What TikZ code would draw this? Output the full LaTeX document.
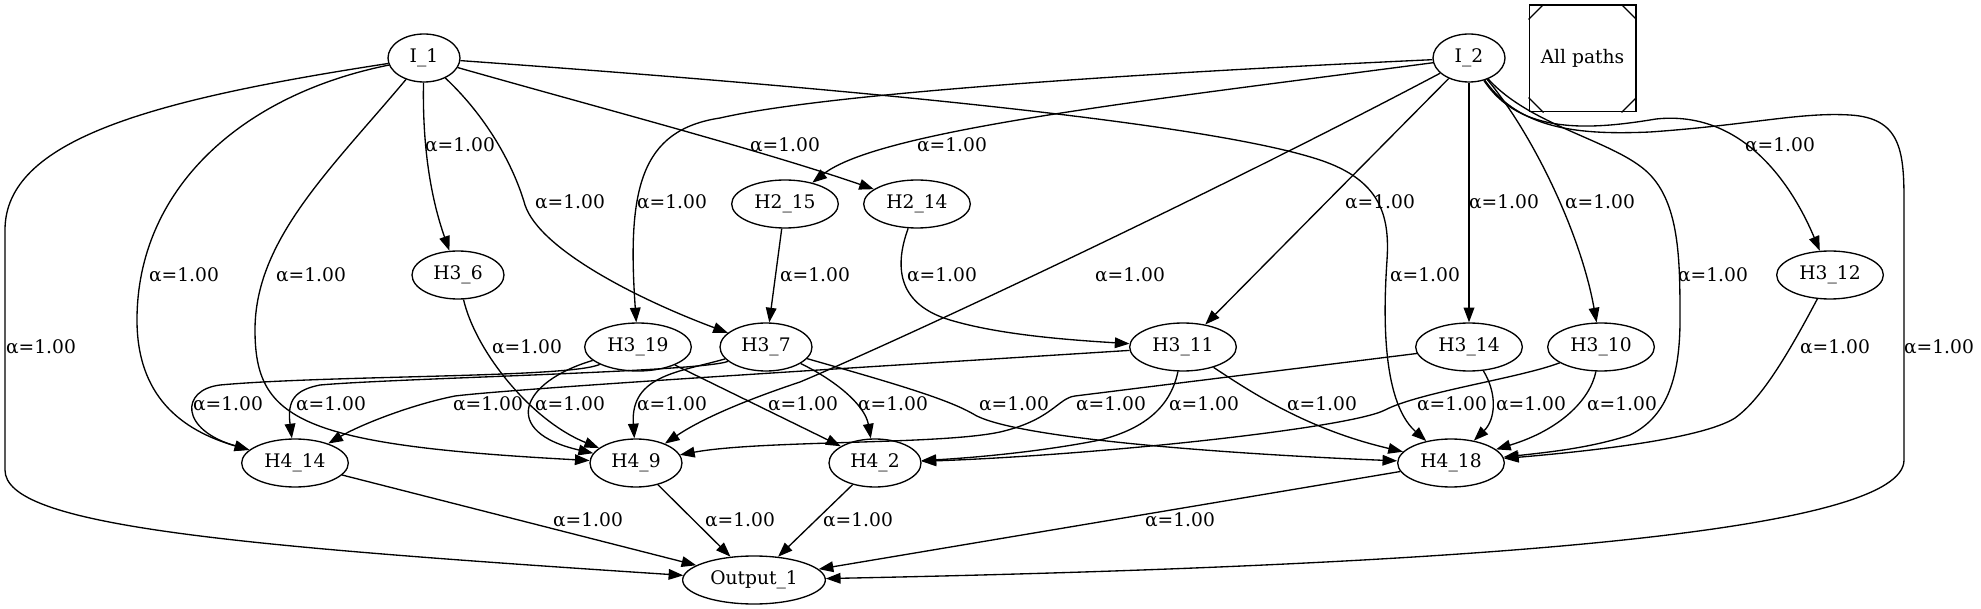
\documentclass[tikz,border=0pt]{standalone}
\usepackage{fontspec}
\setmainfont{DejaVu Serif}
\usetikzlibrary{arrows.meta,shapes.geometric,calc}
\begin{document}
\begin{tikzpicture}[x=0.75pt,y=-0.75pt,
  every node/.style={font=\fontsize{14pt}{16pt}\selectfont},
  nd/.style={draw, ellipse, line width=1pt, minimum height=36pt, inner sep=0pt},
  wa/.style={minimum width=54pt}, wb/.style={minimum width=69pt},
  wc/.style={minimum width=80pt}, wd/.style={minimum width=107pt},
  lab/.style={inner sep=0pt},
  e/.style={line width=1pt, -{Triangle[length=11pt,width=8pt]}},
  boxline/.style={line width=1pt}]
\useasboundingbox (0,0) rectangle (1981,609);
% nodes
\node[nd,wa] (I1) at (424,58) {I\_1};
\node[nd,wa] (I2) at (1469,58) {I\_2};
\node[draw, boxline, minimum width=80pt, minimum height=80pt, inner sep=0pt] (allp) at (1582.5,58.5) {All paths};
\draw[boxline] ($(allp.north west)+(0,15)$) -- ($(allp.north west)+(15,0)$);
\draw[boxline] ($(allp.north east)+(-15,0)$) -- ($(allp.north east)+(0,15)$);
\draw[boxline] ($(allp.south west)+(0,-15)$) -- ($(allp.south west)+(15,0)$);
\draw[boxline] ($(allp.south east)+(-15,0)$) -- ($(allp.south east)+(0,-15)$);
\node[nd,wc] (H2x15) at (785,204) {H2\_15};
\node[nd,wc] (H2x14) at (917,204) {H2\_14};
\node[nd,wb] (H3x6) at (458,275) {H3\_6};
\node[nd,wc] (H3x12) at (1830,275) {H3\_12};
\node[nd,wc] (H3x19) at (638,347) {H3\_19};
\node[nd,wb] (H3x7) at (766,347) {H3\_7};
\node[nd,wc] (H3x11) at (1183,347) {H3\_11};
\node[nd,wc] (H3x14) at (1469,347) {H3\_14};
\node[nd,wc] (H3x10) at (1601,347) {H3\_10};
\node[nd,wc] (H4x14) at (295,463) {H4\_14};
\node[nd,wb] (H4x9) at (636,463) {H4\_9};
\node[nd,wb] (H4x2) at (875,463) {H4\_2};
\node[nd,wc] (H4x18) at (1451,463) {H4\_18};
\node[nd,wd] (Out) at (754,580) {Output\_1};
% edges from I_1
\draw[e] (I1) .. controls (150,100) and (5,140) .. (5,230) -- (5,470) .. controls (5,525) and (220,545) .. (Out);
\draw[e] (I1) .. controls (240,95) and (137,190) .. (137,320) .. controls (137,395) and (180,430) .. (H4x14);
\draw[e] (I1) .. controls (330,170) and (255,240) .. (255,330) .. controls (255,420) and (300,445) .. (H4x9);
\draw[e] (I1) .. controls (422,160) and (435,210) .. (H3x6);
\draw[e] (I1) .. controls (490,120) and (515,170) .. (525,205) .. controls (540,250) and (640,300) .. (H3x7);
\draw[e] (I1) .. controls (600,108) and (760,150) .. (H2x14);
\draw[e] (I1) .. controls (800,85) and (1200,120) .. (1320,160) .. controls (1380,180) and (1390,215) .. (1387,260) .. controls (1384,305) and (1380,400) .. (H4x18);
% edges from I_2
\draw[e] (I2) .. controls (1100,75) and (820,95) .. (720,118) .. controls (640,130) and (627,190) .. (H3x19);
\draw[e] (I2) .. controls (1150,100) and (880,130) .. (H2x15);
\draw[e] (I2) .. controls (1200,200) and (900,340) .. (800,382) .. controls (740,402) and (700,420) .. (H4x9);
\draw[e] (I2) -- (H3x11);
\draw[e] (I2) -- (H3x14);
\draw[e] (I2) .. controls (1530,130) and (1580,230) .. (H3x10);
\draw[e] (I2) .. controls (1530,125) and (1610,140) .. (1645,170) .. controls (1680,200) and (1680,260) .. (1680,320) .. controls (1680,390) and (1660,420) .. (1630,435) .. controls (1590,448) and (1550,452) .. (H4x18);
\draw[e] (I2) .. controls (1520,135) and (1590,130) .. (1656,119) .. controls (1740,110) and (1790,180) .. (H3x12);
\draw[e] (I2) .. controls (1520,130) and (1580,135) .. (1650,132) .. controls (1750,125) and (1800,112) .. (1850,115) .. controls (1900,118) and (1904,150) .. (1904,200) -- (1904,460) .. controls (1904,530) and (1500,565) .. (Out);
% middle edges
\draw[e] (H2x15) -- (H3x7);
\draw[e] (H2x14) .. controls (893,270) and (900,305) .. (950,320) .. controls (1000,335) and (1070,340) .. (H3x11);
\draw[e] (H3x6) .. controls (475,350) and (530,420) .. (H4x9);
\draw[e] (H3x12) .. controls (1785,360) and (1760,400) .. (1735,418) .. controls (1700,440) and (1580,452) .. (H4x18);
% row 3 -> row 4
\draw[e] (H3x19) .. controls (570,378) and (330,375) .. (220,385) .. controls (180,390) and (180,430) .. (H4x14);
\draw[e] (H3x7) .. controls (700,372) and (400,378) .. (320,385) .. controls (295,390) and (287,400) .. (H4x14);
\draw[e] (H3x11) .. controls (900,365) and (520,388) .. (455,396) .. controls (410,405) and (360,425) .. (H4x14);
\draw[e] (H3x19) .. controls (520,382) and (500,432) .. (H4x9);
\draw[e] (H3x7) .. controls (680,372) and (630,375) .. (H4x9);
\draw[e] (H3x19) -- (H4x2);
\draw[e] (H3x7) .. controls (835,380) and (865,405) .. (H4x2);
\draw[e] (H3x7) .. controls (900,385) and (950,400) .. (975,415) .. controls (1020,440) and (1250,455) .. (H4x18);
\draw[e] (H3x11) .. controls (1170,410) and (1140,430) .. (1100,440) .. controls (1040,452) and (970,458) .. (H4x2);
\draw[e] (H3x11) .. controls (1255,395) and (1310,430) .. (H4x18);
\draw[e] (H3x14) -- (1075,396) .. controls (1058,398) and (1052,420) .. (1000,432) .. controls (940,445) and (760,440) .. (H4x9);
\draw[e] (H3x14) .. controls (1498,395) and (1495,420) .. (H4x18);
\draw[e] (H3x10) .. controls (1520,378) and (1420,392) .. (1385,410) .. controls (1350,428) and (1100,455) .. (H4x2);
\draw[e] (H3x10) .. controls (1590,400) and (1560,430) .. (H4x18);
% row 4 -> output
\draw[e] (H4x14) -- (Out);
\draw[e] (H4x9) -- (Out);
\draw[e] (H4x2) -- (Out);
\draw[e] (H4x18) -- (Out);
% labels
\node[lab] (l1) at (41,347) {α=1.00};
\node[lab] (l2) at (184,275) {α=1.00};
\node[lab] (l3) at (311,275) {α=1.00};
\node[lab] (l4) at (460,145) {α=1.00};
\node[lab] (l5) at (570,202) {α=1.00};
\node[lab] (l6) at (785,145) {α=1.00};
\node[lab] (l7) at (1425,275) {α=1.00};
\node[lab] (l8) at (672,202) {α=1.00};
\node[lab] (l9) at (952,145) {α=1.00};
\node[lab] (l10) at (1130,275) {α=1.00};
\node[lab] (l11) at (1380,202) {α=1.00};
\node[lab] (l12) at (1504,202) {α=1.00};
\node[lab] (l13) at (1600,202) {α=1.00};
\node[lab] (l14) at (1713,275) {α=1.00};
\node[lab] (l15) at (1780,145) {α=1.00};
\node[lab] (l16) at (1939,347) {α=1.00};
\node[lab] (l17) at (815,275) {α=1.00};
\node[lab] (l18) at (942,275) {α=1.00};
\node[lab] (l19) at (527,347) {α=1.00};
\node[lab] (l20) at (1835,347) {α=1.00};
\node[lab] (l21) at (228,404) {α=1.00};
\node[lab] (l22) at (331,404) {α=1.00};
\node[lab] (l23) at (488,404) {α=1.00};
\node[lab] (l24) at (570,404) {α=1.00};
\node[lab] (l25) at (672,404) {α=1.00};
\node[lab] (l26) at (803,404) {α=1.00};
\node[lab] (l27) at (893,404) {α=1.00};
\node[lab] (l28) at (1014,404) {α=1.00};
\node[lab] (l29) at (1204,404) {α=1.00};
\node[lab] (l30) at (1322,404) {α=1.00};
\node[lab] (l31) at (1111,404) {α=1.00};
\node[lab] (l32) at (1531,404) {α=1.00};
\node[lab] (l33) at (1452,404) {α=1.00};
\node[lab] (l34) at (1622,404) {α=1.00};
\node[lab] (l35) at (588,520) {α=1.00};
\node[lab] (l36) at (740,520) {α=1.00};
\node[lab] (l37) at (858,520) {α=1.00};
\node[lab] (l38) at (1180,520) {α=1.00};
\end{tikzpicture}
\end{document}
